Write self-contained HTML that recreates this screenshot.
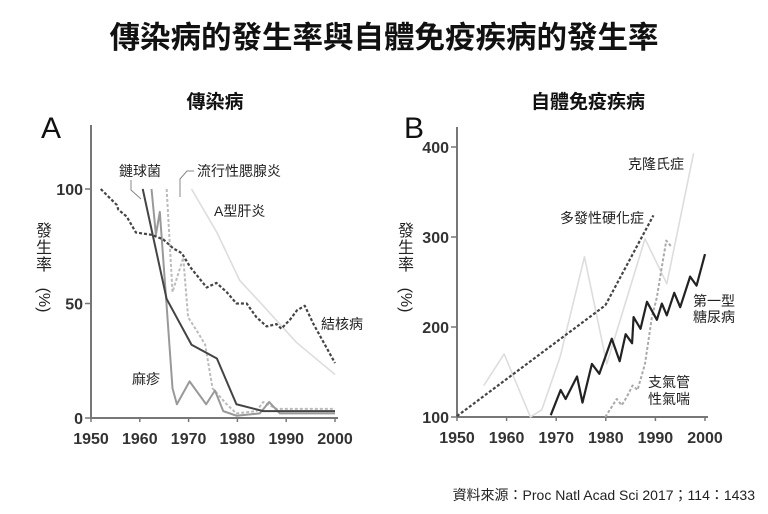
<!DOCTYPE html>
<html><head><meta charset="utf-8"><style>
body{margin:0;background:#fff;}
svg{display:block;font-family:"Liberation Sans","Noto Sans CJK TC",sans-serif;}
</style></head><body>
<svg id="c" width="768" height="514" viewBox="0 0 768 514" xmlns="http://www.w3.org/2000/svg">
<text x="384" y="48" text-anchor="middle" font-size="30.5" font-weight="bold" fill="#111">傳染病的發生率與自體免疫疾病的發生率</text>
<text x="215" y="108" text-anchor="middle" font-size="19" font-weight="bold" fill="#111">傳染病</text>
<text x="588" y="108" text-anchor="middle" font-size="19" font-weight="bold" fill="#111">自體免疫疾病</text>
<text x="41" y="138" font-size="30" fill="#111">A</text>
<text x="404" y="138" font-size="30" fill="#111">B</text>
<g id="A"></g><g id="B"></g>
<text x="755" y="500" text-anchor="end" font-size="14" fill="#222">資料來源：Proc Natl Acad Sci 2017；114：1433</text>
</svg>
<script>
const xTicks=[1950,1960,1970,1980,1990,2000];
const aTicks=[0,50,100];
const bTicks=[100,200,300,400];
const tbX=[1952,1955.3,1955.6,1957.3,1959.2,1962.4,1964.8,1966.9,1968.6,1970.3,1973.7,1975.7,1977.8,1979.8,1981.9,1983.9,1986,1988,1989,1990.8,1992.2,1993.8,1995.6,2000];
const tbY=[100,93,91,88,81,80,78,74,72,66,57,59,55,50,50,44,40,41,39,43,47,49,41,24];
const strepX=[1960.6,1965.5,1970.6,1975.8,1979.8,1985.3,2000];
const strepY=[100,52,32,26,6,3,3];
const measlesX=[1962.4,1963.3,1964.1,1965.5,1966.7,1967.6,1970.2,1973.6,1975.4,1977.1,1979.8,1984.6,1986.5,1988.7,2000];
const measlesY=[100,80,90,49,13,6,16,6,12,3,1,2,7,2,2];
const mumpsX=[1965.5,1966.7,1968.9,1969.9,1972,1973.4,1974.9,1977.8,1979.8,1983.9,1985.3,1988,2000];
const mumpsY=[100,55,70,44,37,32,13,6,2,3,7,4,4];
const hepX=[1970.6,1975.8,1980.5,1985.3,1992.1,2000];
const hepY=[100,81,60,49,33,19];
const msX=[1950,1979.9,1989.6];
const msY=[101,224,324];
const crohnX=[1955.4,1959.5,1964.8,1967.1,1970.8,1975.7,1980.2,1987.9,1991,1992.3,1997.7];
const crohnY=[135,170,100,108,167,278,159,298,263,248,393];
const diabX=[1968.9,1970.9,1971.9,1974.2,1975.3,1977.2,1978.7,1981.2,1982.8,1984,1985.3,1985.6,1987,1988.3,1990.3,1991.3,1992.3,1993.8,1995,1997,1998.3,2000];
const diabY=[102,130,120,145,116,159,148,187,162,192,182,211,198,228,208,226,213,238,222,256,246,281];
const asthX=[1979.9,1982.2,1983.2,1984.2,1985.4,1986.4,1987.9,1989.3,1990.3,1991.3,1992.2,1993.1];
const asthY=[100,120,113,122,135,130,159,211,233,267,296,290];

const NS="http://www.w3.org/2000/svg";
function mk(g,tag,at,txt){const e=document.createElementNS(NS,tag);for(const k in at)e.setAttribute(k,at[k]);if(txt!==undefined)e.textContent=txt;g.appendChild(e);return e;}
function lin(d0,d1,r0,r1){return v=>r0+(v-d0)*(r1-r0)/(d1-d0);}
function panel(g,x,y,yTicks,yTop,label){
  const ax=mk(g,'path',{d:`M${x(1950)} ${yTop}V${y(yTicks[0])}H${x(2000)+3}`,fill:'none',stroke:'#777','stroke-width':2});
  
  
  xTicks.forEach(t=>{const tx=mk(g,'text',{x:x(t),y:y(yTicks[0])+26,'text-anchor':'middle','font-size':16,'font-weight':'bold',fill:'#333'},t);
    
    
    mk(g,'line',{x1:x(t),x2:x(t),y1:y(yTicks[0]),y2:y(yTicks[0])+4,stroke:'#777','stroke-width':1.5});});
  yTicks.forEach(t=>{const tx=mk(g,'text',{x:x(1950)-8,y:y(t)+6,'text-anchor':'end','font-size':16,'font-weight':'bold',fill:'#333'},t);
    
    
    mk(g,'line',{x1:x(1950)-6,x2:x(1950),y1:y(t),y2:y(t),stroke:'#777','stroke-width':1.5});});
}
function series(g,x,y,xs,ys,st,name){
  const p=mk(g,'polyline',Object.assign({points:xs.map((v,i)=>x(v)+','+y(ys[i])).join(' '),fill:'none','stroke-linejoin':'round'},st));
  
  
}
function lab(g,x,y,t,name,fs){const e=mk(g,'text',{x:x,y:y,'font-size':fs||14,fill:'#222'},t);
  
  }
function ytitle(g,cx,label){
  const t=mk(g,'text',{x:0,y:0,'font-size':16,fill:'#222'},'');
  
  
  ['發','生','率'].forEach((c,i)=>mk(t,'tspan',{x:cx,y:236+i*17,'text-anchor':'middle'},c));
  mk(g,'text',{x:0,y:0,'font-size':16,fill:'#222',transform:`translate(${cx-5},300) rotate(90)`,'text-anchor':'middle'},'(%)');
}
// Panel A
const gA=document.getElementById('A');
const xA=lin(1950,2000,91,335), yA=lin(0,100,418,189);
panel(gA,xA,yA,aTicks,125,'panel-a');
series(gA,xA,yA,hepX,hepY,{stroke:'#ddd','stroke-width':1.6},'hepatitis-a-line');
series(gA,xA,yA,mumpsX,mumpsY,{stroke:'#bbb','stroke-width':2,'stroke-dasharray':'3,2'},'mumps-line');
series(gA,xA,yA,measlesX,measlesY,{stroke:'#999','stroke-width':2},'measles-line');
series(gA,xA,yA,strepX,strepY,{stroke:'#444','stroke-width':2},'strep-line');
series(gA,xA,yA,tbX,tbY,{stroke:'#444','stroke-width':2.2,'stroke-dasharray':'3,2'},'tuberculosis-line');
mk(gA,'path',{d:'M131 180V190L141 199',fill:'none',stroke:'#888','stroke-width':1});
mk(gA,'path',{d:'M194 171H187L180 179V197',fill:'none',stroke:'#888','stroke-width':1});
lab(gA,119,176,'鏈球菌','label-strep');
lab(gA,197,176,'流行性腮腺炎','label-mumps');
lab(gA,214,216,'A型肝炎','label-hepatitis-a');
lab(gA,321,329,'結核病','label-tuberculosis');
lab(gA,132,384,'麻疹','label-measles');
ytitle(gA,44,'panel-a');
// Panel B
const gB=document.getElementById('B');
const xB=lin(1950,2000,457,705), yB=lin(100,400,417,147);
panel(gB,xB,yB,bTicks,127,'panel-b');
series(gB,xB,yB,crohnX,crohnY,{stroke:'#ddd','stroke-width':1.6},'crohn-line');
series(gB,xB,yB,asthX,asthY,{stroke:'#aaa','stroke-width':2,'stroke-dasharray':'3,2'},'asthma-line');
series(gB,xB,yB,msX,msY,{stroke:'#444','stroke-width':2.2,'stroke-dasharray':'3,2'},'ms-line');
series(gB,xB,yB,diabX,diabY,{stroke:'#222','stroke-width':2.2},'diabetes-line');
lab(gB,628,169,'克隆氏症','label-crohn');
lab(gB,560,223,'多發性硬化症','label-ms');
lab(gB,693,306,'第一型','label-diabetes-1');
lab(gB,693,322,'糖尿病','label-diabetes-2');
lab(gB,648,387,'支氣管','label-asthma-1');
lab(gB,648,404,'性氣喘','label-asthma-2');
ytitle(gB,406,'panel-b');
</script>
</body></html>
